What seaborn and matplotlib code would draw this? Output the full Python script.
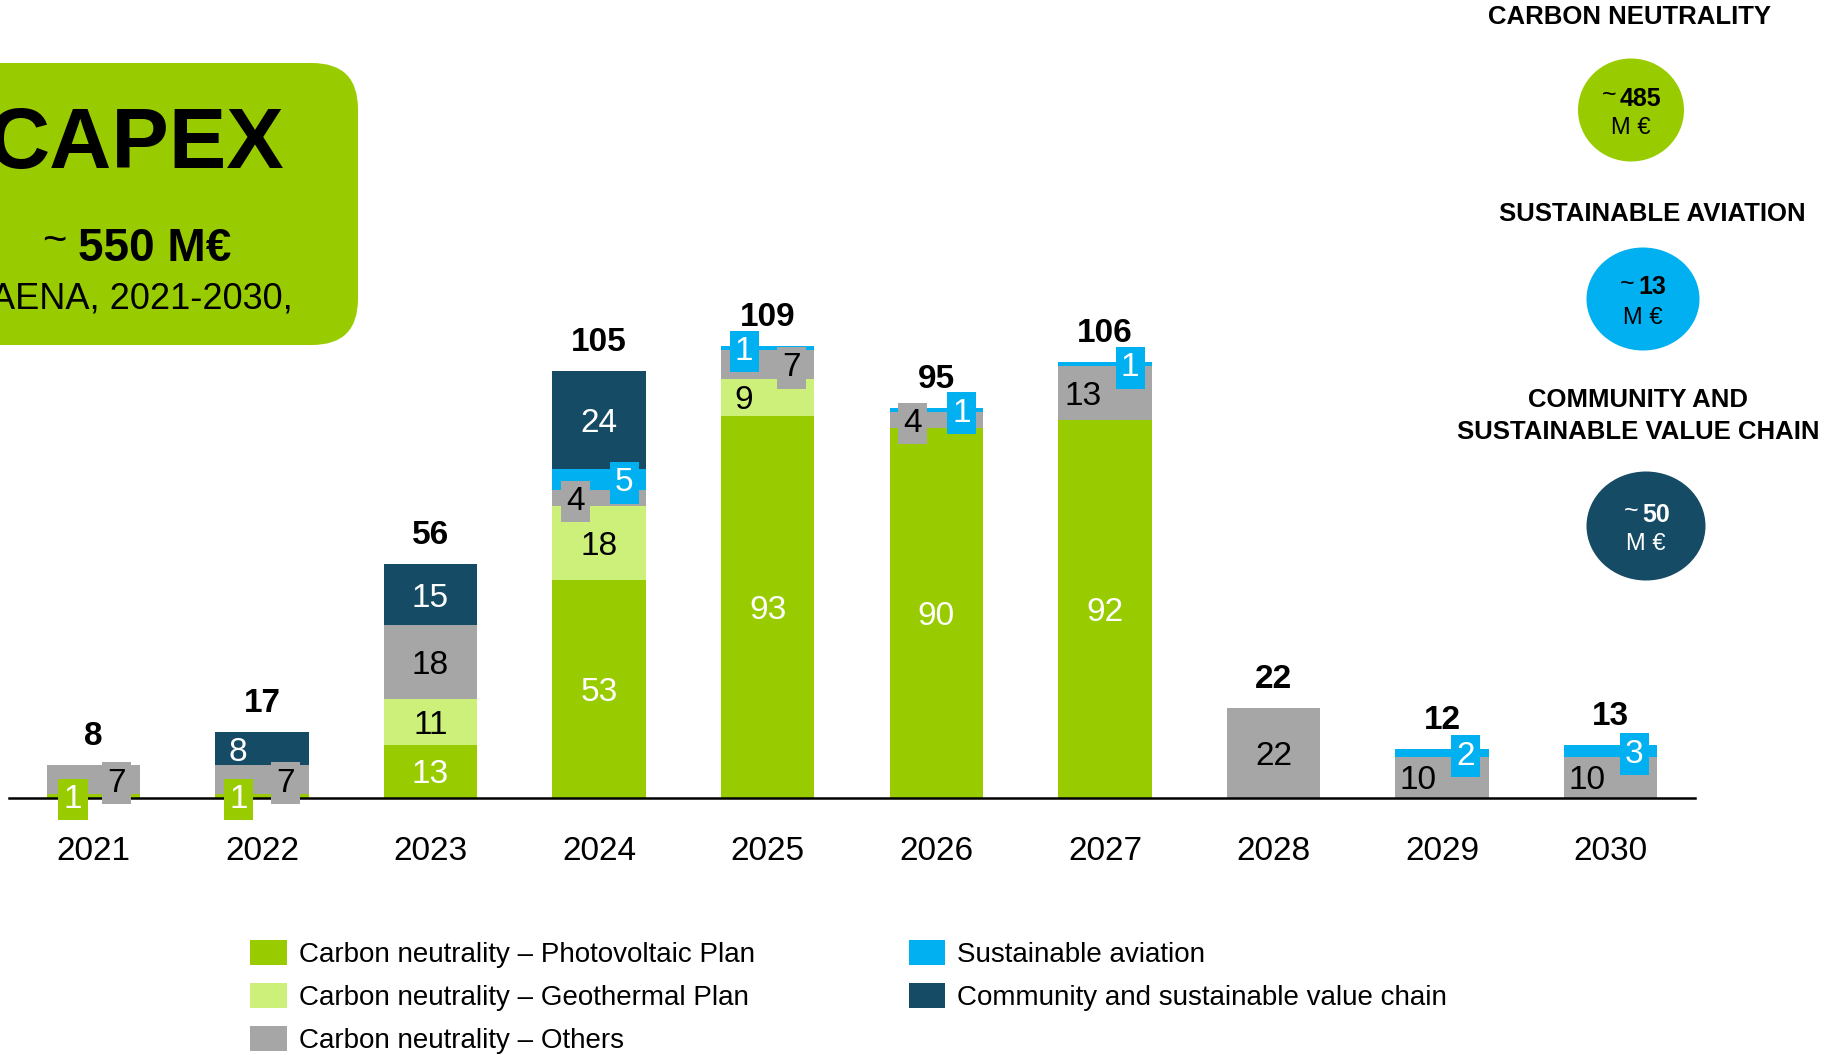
import matplotlib
matplotlib.use('Agg')
import matplotlib.pyplot as plt
from matplotlib.patches import FancyBboxPatch, Ellipse, Patch
import seaborn as sns
import numpy as np

# Datos del gráfico (M€ por año)
years = ['2021', '2022', '2023', '2024', '2025', '2026', '2027', '2028', '2029', '2030']
photovoltaic = [1, 1, 13, 53, 93, 90, 92, 0, 0, 0]
geothermal = [0, 0, 11, 18, 9, 0, 0, 0, 0, 0]
others = [7, 7, 18, 4, 7, 4, 13, 22, 10, 10]
aviation = [0, 0, 0, 5, 1, 1, 1, 0, 2, 3]
community = [0, 8, 15, 24, 0, 0, 0, 0, 0, 0]
totals = [8, 17, 56, 105, 109, 95, 106, 22, 12, 13]

series_names = ['Carbon neutrality – Photovoltaic Plan',
                'Carbon neutrality – Geothermal Plan',
                'Carbon neutrality – Others',
                'Sustainable aviation',
                'Community and sustainable value chain']
summary_titles = ['CARBON NEUTRALITY', 'SUSTAINABLE AVIATION',
                  'COMMUNITY AND\nSUSTAINABLE VALUE CHAIN']
summary_values = ['485', '13', '50']
capex_total = '550 M€'
capex_period = 'AENA, 2021-2030,'

colors = ['#99CC00', '#CCF07A', '#A6A6A6', '#00B0F0', '#164B66']
text_colors = ['white', 'black', 'black', 'white', 'white']

# desplazamiento horizontal de etiquetas pequeñas (año, serie) -> dx
label_dx = {(0, 0): -0.12, (0, 2): 0.14, (1, 0): -0.14, (1, 2): 0.14, (1, 4): -0.14,
            (3, 2): -0.14, (3, 3): 0.15, (4, 1): -0.14, (4, 2): 0.14, (4, 3): -0.14,
            (5, 2): -0.14, (5, 3): 0.15, (6, 2): -0.13, (6, 3): 0.15,
            (8, 2): -0.14, (8, 3): 0.14, (9, 2): -0.14, (9, 3): 0.14}

sns.set_style('white')
plt.rcParams['font.family'] = ['Liberation Sans', 'DejaVu Sans']
plt.rcParams['text.color'] = 'black'

W, H = 1832, 1055
fig = plt.figure(figsize=(W / 100, H / 100), dpi=100)

# capa de decoración en píxeles
ov = fig.add_axes([0, 0, 1, 1], zorder=0)
ov.set_xlim(0, W)
ov.set_ylim(H, 0)
ov.axis('off')

ov.add_patch(FancyBboxPatch((-80, 63), 438, 282, boxstyle='round,pad=0,rounding_size=46',
                            fc='#99CC00', ec='none'))
ov.text(284, 137, 'CAPEX', fontsize=62, fontweight='bold', ha='right', va='center_baseline')
ov.text(54, 242, '~', fontsize=30, ha='center', va='center')
ov.text(78, 244, capex_total, fontsize=33, fontweight='bold', ha='left', va='center_baseline')
ov.text(293, 295, capex_period, fontsize=26, ha='right', va='center_baseline')

# resumen a la derecha
head_pos = [(1630, 17), (1652, 214), (1638, 416)]
circ = [(1631, 110, 106, 103), (1643, 299, 113, 103), (1646, 526, 119, 109)]
circ_fill = [colors[0], colors[3], colors[4]]
circ_txt = ['black', 'black', 'white']
num_dx = [-11, -5, -4]
for k in range(3):
    hx, hy = head_pos[k]
    ov.text(hx, hy, summary_titles[k], fontsize=18.5, fontweight='bold', ha='center',
            va='center', linespacing=1.4)
    cx, cy, cw, chh = circ[k]
    ov.add_patch(Ellipse((cx, cy), cw, chh, fc=circ_fill[k], ec='none'))
    ov.text(cx + num_dx[k] - 11, cy - 15, '~', fontsize=18, ha='center', va='center',
            color=circ_txt[k])
    ov.text(cx + num_dx[k], cy - 14, summary_values[k], fontsize=18, fontweight='bold',
            ha='left', va='center_baseline', color=circ_txt[k])
    ov.text(cx, cy + 16, 'M €', fontsize=17, ha='center', va='center_baseline',
            color=circ_txt[k])

# barras apiladas
ymax = 125
px_per_unit = 4.11
ax = fig.add_axes([9 / W, 257 / H, 1686 / W, ymax * px_per_unit / H], zorder=1)
ax.set_facecolor('none')

layers = [photovoltaic, geothermal, others, aviation, community]
cum = np.cumsum(np.array(layers), axis=0)
for k in range(len(layers) - 1, -1, -1):
    sns.barplot(x=years, y=cum[k], color=colors[k], saturation=1, width=0.555,
                linewidth=0, errorbar=None, ax=ax)

for i in range(len(years)):
    for k in range(len(layers)):
        v = layers[k][i]
        if v <= 0:
            continue
        base = cum[k][i] - v
        dx = label_dx.get((i, k), 0)
        bbox = None
        if v <= 7:
            bbox = dict(boxstyle='square,pad=0.16', fc=colors[k], ec='none')
        ax.text(i + dx, base + v / 2, str(v), fontsize=24, ha='center',
                va='center_baseline', color=text_colors[k], bbox=bbox, zorder=5)
    ax.annotate(str(totals[i]), (i, cum[-1][i]), xytext=(0, 23), textcoords='offset points',
                ha='center', va='center_baseline', fontsize=24, fontweight='bold')

ax.set_xlim(-0.5, 9.5)
ax.set_ylim(0, ymax)
ax.set_yticks([])
ax.set_xlabel('')
ax.set_ylabel('')
for s in ['left', 'top', 'right']:
    ax.spines[s].set_visible(False)
ax.spines['bottom'].set_color('black')
ax.spines['bottom'].set_linewidth(1.8)
ax.tick_params(axis='x', length=0, pad=27, labelsize=24, colors='black')

handles = [Patch(facecolor=colors[k], edgecolor='none') for k in range(5)]
fig.legend(handles, series_names, loc='upper left', bbox_to_anchor=(250 / W, 1 - 940 / H),
           ncol=2, frameon=False, fontsize=20, handlelength=1.33, handleheight=1.0,
           handletextpad=0.43, columnspacing=5.53, labelspacing=0.55, borderpad=0,
           borderaxespad=0)

fig.savefig('out.png', dpi=100)
